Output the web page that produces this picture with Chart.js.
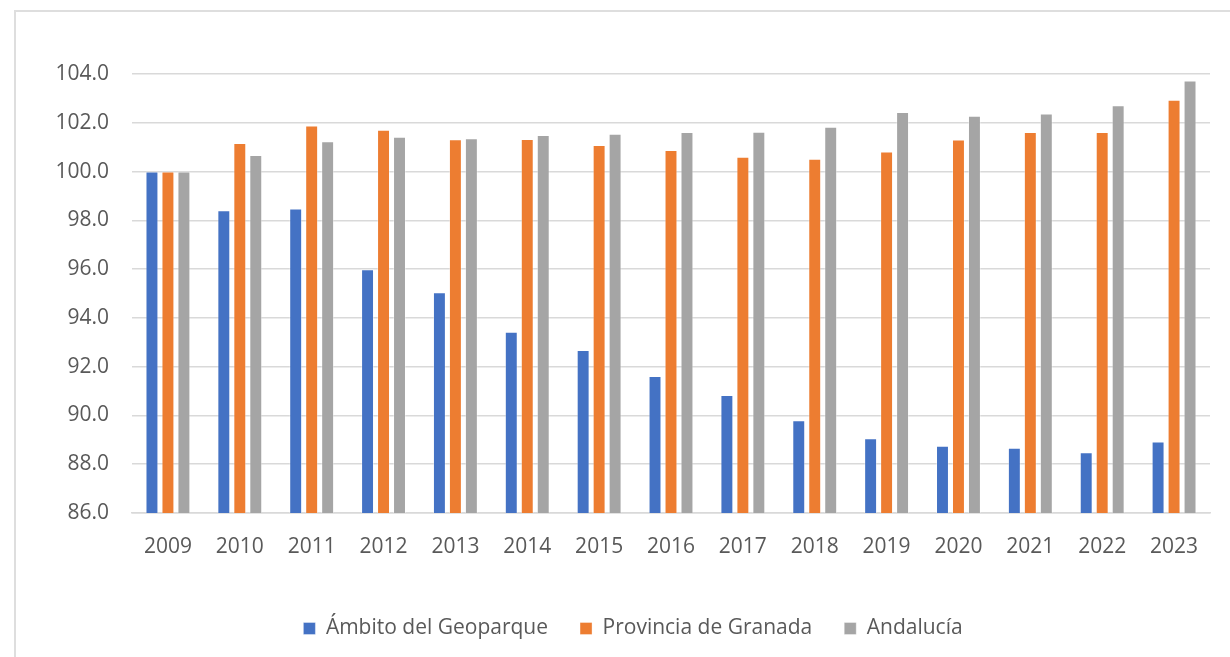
<!DOCTYPE html>
<html>
<head>
<meta charset="utf-8">
<script src="https://cdn.jsdelivr.net/npm/chart.js@4.4.1/dist/chart.umd.min.js"></script>
<style>
  html, body { margin: 0; padding: 0; background: #fff; overflow: hidden; }
  #frame {
    position: absolute; left: 14px; top: 10px; width: 1300px; height: 700px;
    border-left: 2px solid #dedede; border-top: 2px solid #dedede;
  }
  #c { position: absolute; left: 0; top: 0; }
</style>
</head>
<body>
<div id="frame"></div>
<canvas id="c" width="1230" height="657"></canvas>
<script>
var years = ['2009', '2010', '2011', '2012', '2013', '2014', '2015', '2016',
             '2017', '2018', '2019', '2020', '2021', '2022', '2023'];

var geoparque = [100.0, 98.41, 98.49, 95.99, 95.05, 93.43, 92.68, 91.62,
                 90.84, 89.80, 89.06, 88.76, 88.68, 88.49, 88.93];

var granada = [100.0, 101.17, 101.89, 101.71, 101.32, 101.33, 101.09, 100.88,
               100.61, 100.52, 100.82, 101.31, 101.62, 101.62, 102.94];

var andalucia = [100.0, 100.68, 101.24, 101.43, 101.37, 101.50, 101.55, 101.62,
                 101.63, 101.84, 102.44, 102.29, 102.38, 102.72, 103.73];

var seriesNames = ['Ámbito del Geoparque', 'Provincia de Granada', 'Andalucía'];

var txt = '#595959';
var font = { family: "'Open Sans', sans-serif", size: 21 };

function bar(label, values, color) {
    return {
        label: label,
        data: values,
        backgroundColor: color,
        borderColor: 'rgba(255,255,255,0.35)',
        borderWidth: 1,
        barPercentage: 0.81,
        categoryPercentage: 0.667
    };
}

var ctx = document.getElementById('c').getContext('2d');
var chart = new Chart(ctx, {
    type: 'bar',
    data: {
        labels: years,
        datasets: [
            bar(seriesNames[0], geoparque, '#4472C4'),
            bar(seriesNames[1], granada, '#ED7D31'),
            bar(seriesNames[2], andalucia, '#A5A5A5')
        ]
    },
    options: {
        responsive: false,
        animation: false,
        // left padding is larger so the legend centres where it does in the original
        layout: { padding: { left: 56, right: 20, top: 74, bottom: 8 } },
        plugins: {
            tooltip: { enabled: false },
            legend: {
                position: 'bottom',
                labels: {
                    font: font,
                    color: txt,
                    boxWidth: 12,
                    boxHeight: 12,
                    padding: 32
                }
            }
        },
        scales: {
            x: {
                grid: { display: false },
                border: { display: true, color: '#d9d9d9', width: 1.5 },
                ticks: { font: font, color: txt, padding: 13, maxRotation: 0 },
                afterFit: function (axis) { axis.height = 73; }
            },
            y: {
                min: 86,
                max: 104,
                grid: { color: '#d9d9d9', lineWidth: 1.5, drawTicks: false },
                border: { display: false },
                ticks: {
                    stepSize: 2,
                    font: font,
                    color: txt,
                    padding: 23,
                    callback: function (v) { return v.toFixed(1); }
                },
                afterFit: function (axis) { axis.width = 76; }
            }
        }
    }
});
</script>
</body>
</html>
